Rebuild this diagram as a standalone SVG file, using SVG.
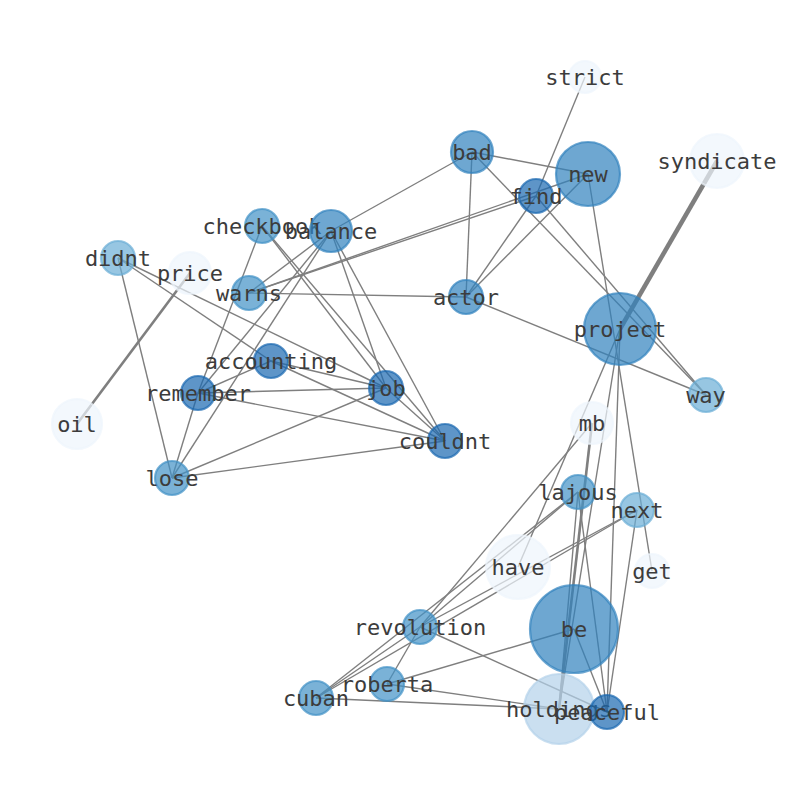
<svg xmlns="http://www.w3.org/2000/svg" width="794" height="790" viewBox="0 0 794 790">
<style>
.e{stroke:#7f7f7f;stroke-width:1.4;fill:none}
.n circle{stroke-width:2.2;fill-opacity:0.7;stroke-opacity:0.7}
.d circle{fill:#1a68b0;stroke:#1a68b0}
.m circle{fill:#3182bd;stroke:#3182bd}
.s circle{fill:#4292c6;stroke:#4292c6}
.l circle{fill:#6baed6;stroke:#6baed6}
.h circle{fill:#b3d2ea;stroke:#b3d2ea}
.w circle{fill:#eef5fc;stroke:#eef5fc}
text{font-family:"DejaVu Sans Mono",monospace;font-size:22px;fill:#3c3c3c;text-anchor:middle;dominant-baseline:central}
</style>
<rect width="794" height="790" fill="#fff"/>
<g id="edges">
<line class="e" x1="472" y1="152" x2="331" y2="231"/>
<line class="e" x1="472" y1="152" x2="466" y2="297"/>
<line class="e" x1="472" y1="152" x2="588" y2="174"/>
<line class="e" x1="472" y1="152" x2="706" y2="395"/>
<line class="e" x1="536" y1="196" x2="706" y2="395"/>
<line class="e" x1="466" y1="297" x2="706" y2="395"/>
<line class="e" x1="249" y1="293" x2="536" y2="196"/>
<line class="e" x1="249" y1="293" x2="588" y2="174"/>
<line class="e" x1="249" y1="293" x2="466" y2="297"/>
<line class="e" x1="331" y1="231" x2="249" y2="293"/>
<line class="e" x1="331" y1="231" x2="198" y2="393"/>
<line class="e" x1="331" y1="231" x2="172" y2="478"/>
<line class="e" x1="331" y1="231" x2="386" y2="388"/>
<line class="e" x1="331" y1="231" x2="445" y2="441"/>
<line class="e" x1="262" y1="226" x2="386" y2="388"/>
<line class="e" x1="262" y1="226" x2="445" y2="441"/>
<line class="e" x1="262" y1="226" x2="198" y2="393"/>
<line class="e" x1="118" y1="258" x2="386" y2="388"/>
<line class="e" x1="118" y1="258" x2="271" y2="361"/>
<line class="e" x1="118" y1="258" x2="172" y2="478"/>
<line class="e" x1="271" y1="361" x2="386" y2="388"/>
<line class="e" x1="271" y1="361" x2="445" y2="441"/>
<line class="e" x1="271" y1="361" x2="198" y2="393"/>
<line class="e" x1="198" y1="393" x2="386" y2="388"/>
<line class="e" x1="198" y1="393" x2="445" y2="441"/>
<line class="e" x1="198" y1="393" x2="172" y2="478"/>
<line class="e" x1="172" y1="478" x2="386" y2="388"/>
<line class="e" x1="172" y1="478" x2="445" y2="441"/>
<line class="e" x1="386" y1="388" x2="445" y2="441"/>
<line class="e" x1="466" y1="297" x2="536" y2="196"/>
<line class="e" x1="466" y1="297" x2="588" y2="174"/>
<line class="e" x1="585" y1="77" x2="536" y2="196"/>
<line class="e" x1="588" y1="174" x2="652" y2="571"/>
<line class="e" x1="620" y1="329" x2="518" y2="567"/>
<line class="e" x1="620" y1="329" x2="559" y2="709"/>
<line class="e" x1="620" y1="329" x2="607" y2="712"/>
<line class="e" x1="592" y1="423" x2="420" y2="627"/>
<line class="e" x1="578" y1="492" x2="420" y2="627"/>
<line class="e" x1="578" y1="492" x2="316" y2="698"/>
<line class="e" x1="578" y1="492" x2="607" y2="712"/>
<line class="e" x1="578" y1="492" x2="559" y2="709"/>
<line class="e" x1="637" y1="510" x2="420" y2="627"/>
<line class="e" x1="637" y1="510" x2="316" y2="698"/>
<line class="e" x1="637" y1="510" x2="607" y2="712"/>
<line class="e" x1="420" y1="627" x2="387" y2="684"/>
<line class="e" x1="420" y1="627" x2="316" y2="698"/>
<line class="e" x1="420" y1="627" x2="607" y2="712"/>
<line class="e" x1="387" y1="684" x2="574" y2="629"/>
<line class="e" x1="387" y1="684" x2="559" y2="709"/>
<line class="e" x1="316" y1="698" x2="559" y2="709"/>
<line class="e" x1="574" y1="629" x2="607" y2="712"/>
<line class="e" x1="592" y1="423" x2="559" y2="709" style="stroke-width:2.6"/>
<line class="e" x1="190" y1="273" x2="77" y2="424" style="stroke-width:2.6"/>
<line class="e" x1="717" y1="161" x2="620" y2="329" style="stroke-width:4.5"/>
</g>
<g id="strict" class="n w"><circle cx="585" cy="77" r="16"/><text x="585" y="77">strict</text></g>
<g id="bad" class="n m"><circle cx="472" cy="152" r="21"/><text x="472" y="152">bad</text></g>
<g id="new" class="n m"><circle cx="588" cy="174" r="32"/><text x="588" y="174">new</text></g>
<g id="find" class="n d"><circle cx="536" cy="196" r="17"/><text x="536" y="196">find</text></g>
<g id="syndicate" class="n w"><circle cx="717" cy="161" r="27"/><text x="717" y="161">syndicate</text></g>
<g id="checkbook" class="n s"><circle cx="262" cy="226" r="17"/><text x="262" y="226">checkbook</text></g>
<g id="balance" class="n m"><circle cx="331" cy="231" r="21"/><text x="331" y="231">balance</text></g>
<g id="didnt" class="n l"><circle cx="118" cy="258" r="17"/><text x="118" y="258">didnt</text></g>
<g id="price" class="n w"><circle cx="190" cy="273" r="21"/><text x="190" y="273">price</text></g>
<g id="warns" class="n s"><circle cx="249" cy="293" r="17"/><text x="249" y="293">warns</text></g>
<g id="actor" class="n m"><circle cx="466" cy="297" r="17"/><text x="466" y="297">actor</text></g>
<g id="project" class="n m"><circle cx="620" cy="329" r="36"/><text x="620" y="329">project</text></g>
<g id="accounting" class="n d"><circle cx="271" cy="361" r="17"/><text x="271" y="361">accounting</text></g>
<g id="remember" class="n d"><circle cx="198" cy="393" r="17"/><text x="198" y="393">remember</text></g>
<g id="job" class="n d"><circle cx="386" cy="388" r="17"/><text x="386" y="388">job</text></g>
<g id="way" class="n l"><circle cx="706" cy="395" r="17"/><text x="706" y="395">way</text></g>
<g id="oil" class="n w"><circle cx="77" cy="424" r="25"/><text x="77" y="424">oil</text></g>
<g id="mb" class="n w"><circle cx="592" cy="423" r="21"/><text x="592" y="423">mb</text></g>
<g id="couldnt" class="n d"><circle cx="445" cy="441" r="17"/><text x="445" y="441">couldnt</text></g>
<g id="lose" class="n s"><circle cx="172" cy="478" r="17"/><text x="172" y="478">lose</text></g>
<g id="lajous" class="n s"><circle cx="578" cy="492" r="17"/><text x="578" y="492">lajous</text></g>
<g id="next" class="n l"><circle cx="637" cy="510" r="17"/><text x="637" y="510">next</text></g>
<g id="have" class="n w"><circle cx="518" cy="567" r="32"/><text x="518" y="567">have</text></g>
<g id="get" class="n w"><circle cx="652" cy="571" r="17"/><text x="652" y="571">get</text></g>
<g id="be" class="n m"><circle cx="574" cy="629" r="44"/><text x="574" y="629">be</text></g>
<g id="revolution" class="n s"><circle cx="420" cy="627" r="17"/><text x="420" y="627">revolution</text></g>
<g id="roberta" class="n s"><circle cx="387" cy="684" r="17"/><text x="387" y="684">roberta</text></g>
<g id="cuban" class="n s"><circle cx="316" cy="698" r="17"/><text x="316" y="698">cuban</text></g>
<g id="holdings" class="n h"><circle cx="559" cy="709" r="35"/><text x="559" y="709">holdings</text></g>
<g id="peaceful" class="n d"><circle cx="607" cy="712" r="17"/><text x="607" y="712">peaceful</text></g>
</svg>
